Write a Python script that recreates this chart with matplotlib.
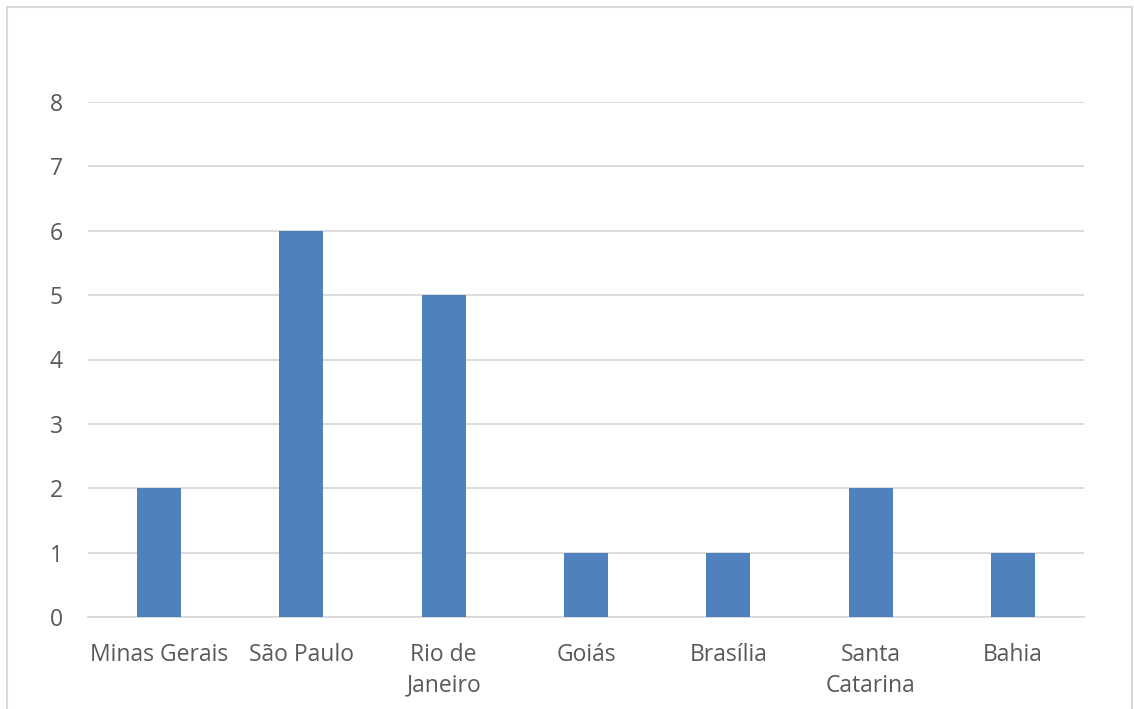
import matplotlib
matplotlib.use("Agg")
import matplotlib.pyplot as plt
from matplotlib.patches import Rectangle

# data
estados = ["Minas Gerais", "São Paulo", "Rio de\nJaneiro", "Goiás", "Brasília",
           "Santa\nCatarina", "Bahia"]
valores = [2, 6, 5, 1, 1, 2, 1]
yticks = [0, 1, 2, 3, 4, 5, 6, 7, 8]

plt.rcParams['font.family'] = ['Open Sans', 'DejaVu Sans']

fig = plt.figure(figsize=(11.34, 7.09), dpi=100)
ax = fig.add_axes([88 / 1134, 1 - 617 / 709, 996 / 1134, 515 / 709])

# outer chart frame like the office chart border
fig.patches.append(Rectangle((7 / 1134, -0.01), 1125 / 1134, 1 - 7 / 709 + 0.01,
                             transform=fig.transFigure, fill=False,
                             edgecolor='#d9d9d9', linewidth=1.5))

x = range(len(estados))
ax.bar(x, valores, width=0.31, color='#4f81bd', zorder=3)

ax.set_xlim(-0.5, len(estados) - 0.5)
ax.set_ylim(0, 8)
ax.set_yticks(yticks)
ax.set_xticks(list(x))
ax.set_xticklabels(estados, fontsize=16.5, color='#595959', linespacing=1.36)
ax.tick_params(axis='y', labelsize=16.5, labelcolor='#595959', length=0, pad=18)
ax.tick_params(axis='x', length=0, pad=19)

ax.grid(axis='y', color='#d9d9d9', linewidth=1.3, zorder=0)
for s in ['top', 'right', 'left']:
    ax.spines[s].set_visible(False)
ax.spines['bottom'].set_color('#d9d9d9')
ax.spines['bottom'].set_linewidth(1.3)

fig.savefig("out.png", dpi=100)
